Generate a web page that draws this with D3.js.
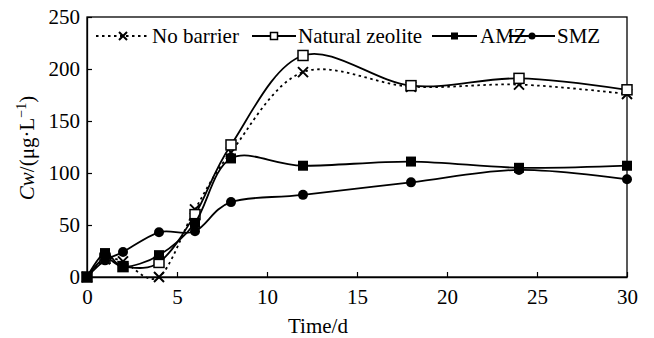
<html>
<head>
<meta charset="utf-8">
<script src="https://cdn.jsdelivr.net/npm/d3@7"></script>
<style>
  body { margin: 0; background: #fff; }
  text { font-family: "Liberation Serif", "Times New Roman", serif; fill: #000; }
</style>
</head>
<body>
<div id="chart"></div>
<script>
// days sampled
var days = [0, 1, 2, 4, 6, 8, 12, 18, 24, 30];

// concentration series, ug/L
var noBarrier = [0, 17, 15, 0, 65, 120, 197, 183, 185, 176];
var naturalZeolite = [0, 18, 10, 14, 60, 127, 213, 184, 191, 180];
var amz = [0, 23, 10, 21, 52, 114, 107, 111, 105, 107];
var smz = [0, 16, 24, 43, 44, 72, 79, 91, 103, 94];

var xTicks = [0, 5, 10, 15, 20, 25, 30];
var yTicks = [0, 50, 100, 150, 200, 250];

var width = 654, height = 338;
var plotL = 87, plotR = 627, plotT = 17, plotB = 277;
var fs = 21;

var svg = d3.select("#chart").append("svg")
    .attr("width", width)
    .attr("height", height);

var x = d3.scaleLinear().domain([0, 30]).range([plotL, plotR]);
var y = d3.scaleLinear().domain([0, 250]).range([plotB, plotT]);

// frame
svg.append("rect")
    .attr("x", plotL).attr("y", plotT)
    .attr("width", plotR - plotL).attr("height", plotB - plotT)
    .attr("fill", "none").attr("stroke", "#000").attr("stroke-width", 1.3);

var xAxis = svg.append("g")
    .attr("transform", "translate(0," + plotB + ")")
    .call(d3.axisBottom(x).tickValues(xTicks).tickSizeInner(-5).tickSizeOuter(0).tickPadding(12));
var yAxis = svg.append("g")
    .attr("transform", "translate(" + plotL + ",0)")
    .call(d3.axisLeft(y).tickValues(yTicks).tickSizeInner(-5).tickSizeOuter(0).tickPadding(7));

[xAxis, yAxis].forEach(function(g) {
    g.select(".domain").attr("stroke", "#000").attr("stroke-width", 1.3);
    g.selectAll(".tick line").attr("stroke", "#000").attr("stroke-width", 1.2);
    g.selectAll(".tick text")
        .attr("font-family", "Liberation Serif, serif")
        .attr("font-size", fs)
        .attr("fill", "#000");
});

// axis titles
svg.append("text")
    .attr("x", 318).attr("y", 333)
    .attr("text-anchor", "middle")
    .attr("font-size", fs)
    .text("Time/d");

var yl = svg.append("text")
    .attr("transform", "translate(34,148) rotate(-90)")
    .attr("text-anchor", "middle")
    .attr("font-size", fs);
yl.append("tspan").attr("font-style", "italic").text("Cw");
yl.append("tspan").text("/(μg·L");
yl.append("tspan").attr("dy", -8).attr("font-size", 14).text("−1");
yl.append("tspan").attr("dy", 8).text(")");

var line = d3.line()
    .x(function(d) { return x(d[0]); })
    .y(function(d) { return y(d[1]); })
    .curve(d3.curveCardinal.tension(0));

var series = [
    { name: "No barrier", values: noBarrier, marker: "cross", dash: "2.5,3.5" },
    { name: "Natural zeolite", values: naturalZeolite, marker: "open", dash: null },
    { name: "AMZ", values: amz, marker: "square", dash: null },
    { name: "SMZ", values: smz, marker: "circle", dash: null }
];

function drawMarker(g, type, cx, cy, r) {
    if (type === "cross") {
        g.append("path")
            .attr("d", "M" + (cx - r) + "," + (cy - r) + "L" + (cx + r) + "," + (cy + r) +
                       "M" + (cx + r) + "," + (cy - r) + "L" + (cx - r) + "," + (cy + r))
            .attr("stroke", "#000").attr("stroke-width", 2).attr("fill", "none");
    } else if (type === "open") {
        g.append("rect").attr("x", cx - r).attr("y", cy - r)
            .attr("width", 2 * r).attr("height", 2 * r)
            .attr("fill", "#fff").attr("stroke", "#000").attr("stroke-width", 1.5);
    } else if (type === "square") {
        g.append("rect").attr("x", cx - r).attr("y", cy - r)
            .attr("width", 2 * r).attr("height", 2 * r).attr("fill", "#000");
    } else {
        g.append("circle").attr("cx", cx).attr("cy", cy).attr("r", r).attr("fill", "#000");
    }
}

series.forEach(function(s) {
    var pts = days.map(function(d, i) { return [d, s.values[i]]; });
    svg.append("path")
        .attr("d", line(pts))
        .attr("fill", "none")
        .attr("stroke", "#000")
        .attr("stroke-width", 1.8)
        .attr("stroke-dasharray", s.dash);
    var mg = svg.append("g");
    pts.forEach(function(p) { drawMarker(mg, s.marker, x(p[0]), y(p[1]), 5); });
});

// legend
var legendItems = [
    { x0: 96, x1: 150, tx: 152 },
    { x0: 252, x1: 296, tx: 298 },
    { x0: 432, x1: 477, tx: 480 },
    { x0: 509, x1: 555, tx: 557 }
];
var ly = 36;
series.forEach(function(s, i) {
    var L = legendItems[i];
    var g = svg.append("g");
    g.append("line")
        .attr("x1", L.x0).attr("x2", L.x1).attr("y1", ly).attr("y2", ly)
        .attr("stroke", "#000").attr("stroke-width", 1.8)
        .attr("stroke-dasharray", s.dash);
    drawMarker(g, s.marker, (L.x0 + L.x1) / 2, ly, s.marker === "cross" ? 4 : 3.5);
    g.append("text")
        .attr("x", L.tx).attr("y", ly + 7)
        .attr("font-size", fs)
        .text(s.name);
});
</script>
</body>
</html>
